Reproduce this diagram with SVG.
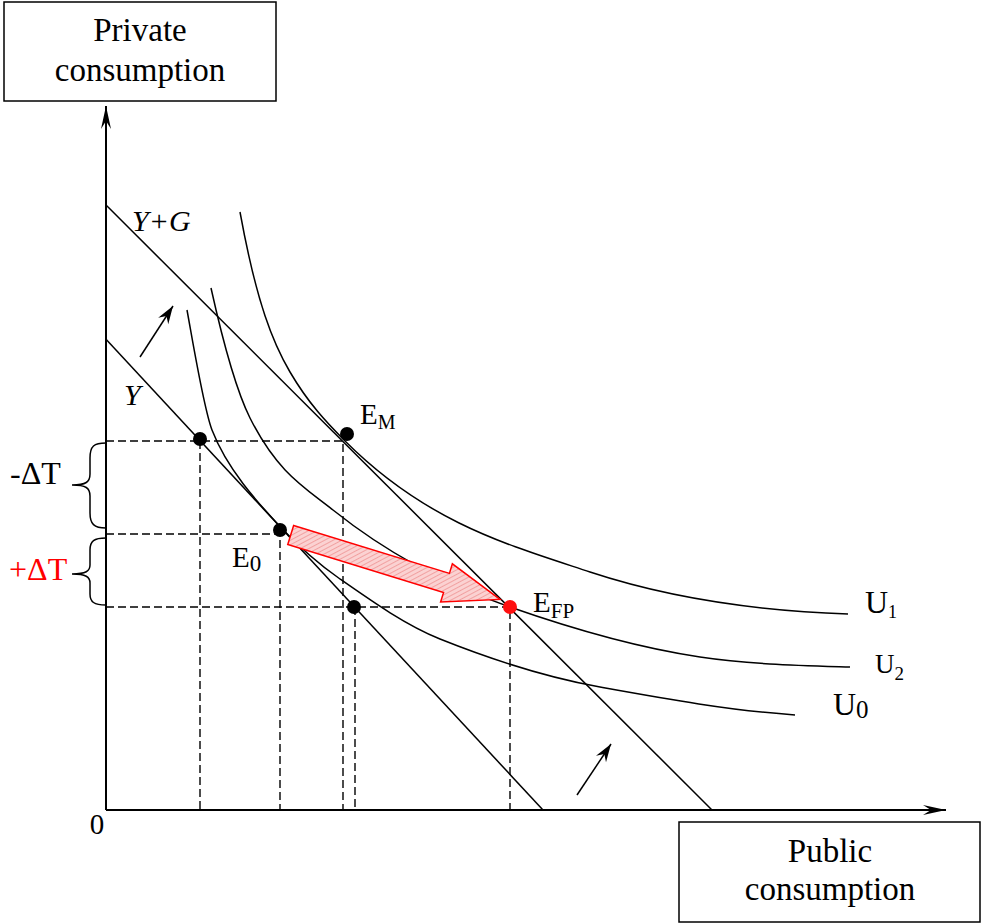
<svg xmlns="http://www.w3.org/2000/svg" width="982" height="924" viewBox="0 0 982 924">
<style>
  text { font-family: "Liberation Serif", "Times New Roman", serif; fill: #000; }
  .box { fill: #fff; stroke: #000; stroke-width: 1.5; }
  .axis { stroke: #000; stroke-width: 2; fill: none; }
  .curve { stroke: #000; stroke-width: 1.5; fill: none; }
  .dash { stroke: #000; stroke-width: 1.4; stroke-dasharray: 8 4; fill: none; }
  .brace { stroke: #000; stroke-width: 1.5; fill: none; }
  .dot { fill: #000; }
  .lbl { font-size: 29px; }
  .boxtxt { font-size: 33px; }
</style>
<defs>
  <marker id="axhead" markerUnits="userSpaceOnUse" viewBox="-24 -6 26 12" markerWidth="26" markerHeight="12" refX="0" refY="0" orient="auto">
    <path d="M0,0 L-23,-5 L-15,0 L-23,5 Z" fill="#000"/>
  </marker>
  <marker id="smhead" markerUnits="userSpaceOnUse" viewBox="-20 -7 22 14" markerWidth="22" markerHeight="14" refX="0" refY="0" orient="auto">
    <path d="M0,0 L-18,-6 L-12,0 L-18,6 Z" fill="#000"/>
  </marker>
  <pattern id="hatch" patternUnits="userSpaceOnUse" width="4" height="4" patternTransform="rotate(45)">
    <rect width="4" height="4" fill="#fbd2d2"/>
    <line x1="0" y1="0" x2="0" y2="4" stroke="#ee8c8c" stroke-width="1.4"/>
  </pattern>
</defs>

<g id="node-private">
  <rect class="box" x="4" y="2" width="272" height="99"/>
  <text class="boxtxt" x="140" y="41" text-anchor="middle">Private</text>
  <text class="boxtxt" x="140" y="81" text-anchor="middle">consumption</text>
</g>
<g id="node-public">
  <rect class="box" x="679" y="822" width="301" height="100"/>
  <text class="boxtxt" x="830" y="862" text-anchor="middle">Public</text>
  <text class="boxtxt" x="830" y="900" text-anchor="middle">consumption</text>
</g>

<g id="connectors">
  <line class="axis" x1="106" y1="810" x2="106" y2="106" marker-end="url(#axhead)"/>
  <line class="axis" x1="106" y1="810" x2="946" y2="810" marker-end="url(#axhead)"/>
  <line class="curve" x1="140" y1="357" x2="173" y2="306" marker-end="url(#smhead)"/>
  <line class="curve" x1="577" y1="795" x2="611" y2="744" marker-end="url(#smhead)"/>
</g>

<g id="guides">
  <path class="dash" d="M106,441 H343 V810"/>
  <path class="dash" d="M200,441 V810"/>
  <path class="dash" d="M106,534 H280 V810"/>
  <path class="dash" d="M106,607 H510 V810"/>
  <path class="dash" d="M355,607 V810"/>
</g>

<g id="budget-lines">
  <line class="curve" x1="106" y1="339.3" x2="543" y2="810"/>
  <line class="curve" x1="106" y1="205" x2="712" y2="810"/>
</g>

<g id="indifference-curves">
  <path id="U1" class="curve" d="M240,212 C256.7,303.7 273.3,343.7 290,372 C308.3,403.2 326.7,422.7 345,441 C426.7,522.7 508.3,545 590,572 C676,600.4 762,611 848,614"/>
  <path id="U2" class="curve" d="M211,288 C224,346.5 237,392 250,418 C277.7,473.3 305.3,487.9 333,510 C392,557.2 451,586.35 510,607 C573.3,629.2 636.7,647.5 700,657 C750,664.5 800,665.5 850,667"/>
  <path id="U0" class="curve" d="M187,310 C195,354 204,409.2 212,430 C227,469 257.3,502.1 280,526.5 C300,548 320,565 340,579 C373.3,602.3 406.7,625.7 440,639 C493.3,660.3 546.7,677.4 600,687 C665,698.7 730,710.5 795,715"/>
</g>

<g id="braces">
  <path class="brace" d="M106,443 C94,443 90,446 90,458 L90,474 C90,482 86,485 72,485 C86,485 90,488 90,496 L90,513 C90,524 94,528 106,528"/>
  <path class="brace" d="M106,538 C94,538 90,541 90,550 L90,565 C90,571 86,574 72,574 C86,574 90,577 90,583 L90,594 C90,602 94,605 106,605"/>
</g>

<g id="shift-arrow">
  <polygon transform="translate(290.7,535) rotate(17.1)" points="0,-10 163,-10 163,-20 219,0 163,20 163,10 0,10" fill="url(#hatch)" stroke="#ff0000" stroke-width="1.5" stroke-linejoin="miter"/>
</g>

<g id="points">
  <circle class="dot" cx="200" cy="439" r="7"/>
  <circle class="dot" cx="347" cy="434" r="7"/>
  <circle class="dot" cx="280" cy="530" r="7"/>
  <circle class="dot" cx="354" cy="607" r="7"/>
  <circle cx="510" cy="607" r="7" fill="#ff1010"/>
</g>

<g id="labels">
  <text x="132" y="231" font-size="30" font-style="italic">Y+G</text>
  <text x="124" y="405" font-size="30" font-style="italic">Y</text>
  <text class="lbl" x="360" y="424">E<tspan font-size="20" dy="5">M</tspan></text>
  <text class="lbl" x="232" y="567">E<tspan font-size="23" dy="4">0</tspan></text>
  <text class="lbl" x="533" y="612">E<tspan font-size="21" dy="6">FP</tspan></text>
  <text x="865" y="613" font-size="32">U<tspan font-size="18" dy="5">1</tspan></text>
  <text x="875" y="673" font-size="27">U<tspan font-size="19" dy="7">2</tspan></text>
  <text x="833" y="715" font-size="32">U<tspan font-size="25" dy="3">0</tspan></text>
  <text x="97" y="834" font-size="29" text-anchor="middle">0</text>
  <text x="10" y="484" font-size="32">-ΔT</text>
  <text x="9" y="580" font-size="32" fill="#ff0000" style="fill:#ff0000">+ΔT</text>
</g>
</svg>
